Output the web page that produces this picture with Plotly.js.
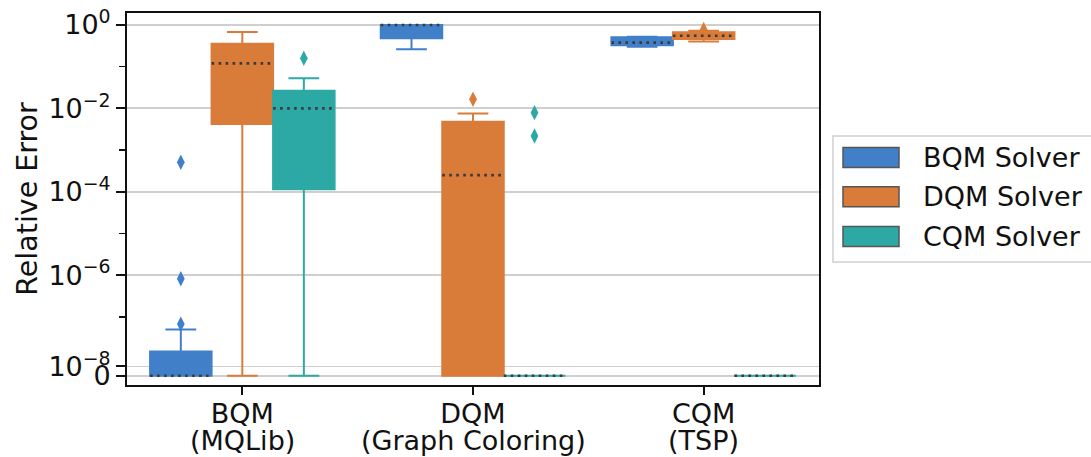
<!DOCTYPE html>
<html>
<head>
<meta charset="utf-8">
<script src="https://cdn.plot.ly/plotly-3.0.1.min.js"></script>
<style>html,body{margin:0;padding:0;background:#fff;}#chart{width:1091px;height:457px;}</style>
</head>
<body>
<div id="chart"></div>
<script>
// ---------- data (raw relative-error values) ----------
const categories = ["BQM", "DQM", "CQM"];
const categoryNotes = ["(MQLib)", "(Graph Coloring)", "(TSP)"];
const solvers = ["BQM Solver", "DQM Solver", "CQM Solver"];
const colors = ["#4180c9", "#d97c3a", "#2ca9a5"];

// per solver, one value per category
const bqmQ1     = [0,      0.48,  0.326];
const bqmMedian = [0,      1.0,   0.377];
const bqmQ3     = [2.6e-8, 1.0,   0.507];
const bqmLow    = [0,      0.261, 0.30];
const bqmHigh   = [5.0e-8, 1.0,   0.524];

const dqmQ1     = [4.2e-3, 0,      0.462];
const dqmMedian = [0.12,   2.5e-4, 0.553];
const dqmQ3     = [0.356,  4.8e-3, 0.668];
const dqmLow    = [0,      0,      0.40];
const dqmHigh   = [0.68,   7.5e-3, 0.73];

const cqmQ1     = [1.15e-4, 0, 0];
const cqmMedian = [0.01,    0, 0];
const cqmQ3     = [0.0266,  0, 0];
const cqmLow    = [0,       0, 0];
const cqmHigh   = [0.0526,  0, 0];

// outliers: category index and value
const bqmOutCat = [0, 0, 0];
const bqmOutVal = [6.7e-8, 8.2e-7, 5.1e-4];
const dqmOutCat = [1, 2];
const dqmOutVal = [0.0165, 0.78];
const cqmOutCat = [0, 1, 1];
const cqmOutVal = [0.159, 7.9e-3, 2.18e-3];

const yTickValues = [1, 1e-2, 1e-4, 1e-6, 1e-8, 0];
const yTickLabels = ["10<sup>0</sup>", "10<sup>−2</sup>", "10<sup>−4</sup>", "10<sup>−6</sup>", "10<sup>−8</sup>", "0"];
const yMinorValues = [1e-1, 1e-3, 1e-5, 1e-7];

// ---------- symmetric-log transform (linthresh 5e-8, linscale 1) ----------
const LIN = 5e-8, ADJ = 1 / (1 - 1 / 10);
function T(v) { return v <= LIN ? ADJ * v / LIN : ADJ + Math.log10(v / LIN); }

const groups = [
  {q1: bqmQ1, med: bqmMedian, q3: bqmQ3, lo: bqmLow, hi: bqmHigh, oc: bqmOutCat, ov: bqmOutVal},
  {q1: dqmQ1, med: dqmMedian, q3: dqmQ3, lo: dqmLow, hi: dqmHigh, oc: dqmOutCat, ov: dqmOutVal},
  {q1: cqmQ1, med: cqmMedian, q3: cqmQ3, lo: cqmLow, hi: cqmHigh, oc: cqmOutCat, ov: cqmOutVal}
];

const BW = 0.8 / 3;
const offsets = [-BW, 0, BW];
const traces = [];
groups.forEach((g, s) => {
  const xs = categories.map((c, i) => i + offsets[s]);
  traces.push({
    type: "box", x: xs,
    q1: g.q1.map(T), median: g.med.map(T), q3: g.q3.map(T),
    lowerfence: g.lo.map(T), upperfence: g.hi.map(T),
    width: BW, whiskerwidth: 0.5, boxpoints: false,
    fillcolor: colors[s], line: {color: colors[s], width: 2},
    showlegend: false, hoverinfo: "skip", name: solvers[s]
  });
});
// outliers
groups.forEach((g, s) => {
  traces.push({
    type: "scatter", mode: "markers",
    x: g.oc.map(i => i + offsets[s]), y: g.ov.map(T),
    marker: {symbol: "diamond-tall", size: 11, color: colors[s], line: {width: 0}},
    showlegend: false, hoverinfo: "skip"
  });
});
// dotted medians
groups.forEach((g, s) => {
  const xs = [], ys = [];
  g.med.forEach((m, i) => {
    const c = i + offsets[s];
    xs.push(c - BW / 2, c + BW / 2, null);
    ys.push(T(m), T(m), null);
  });
  traces.push({
    type: "scatter", mode: "lines", x: xs, y: ys,
    line: {color: "#3a3a3a", width: 2.6, dash: "2.6px,4.4px"},
    showlegend: false, hoverinfo: "skip"
  });
});

// ---------- manual legend + second line of category labels ----------
const PL = 127, PW = 692, PB = 385, PH = 372;
const px = v => (v - PL) / PW;
const py = v => (PB - v) / PH;
const shapes = [{
  type: "rect", xref: "paper", yref: "paper",
  x0: px(833), x1: px(1100), y0: py(262), y1: py(136),
  line: {color: "#d0d0d0", width: 1.5}, fillcolor: "rgba(255,255,255,0.8)", layer: "above"
}];
const annotations = [];
const rowY = [157.5, 196.8, 236.4];
solvers.forEach((name, s) => {
  shapes.push({
    type: "rect", xref: "paper", yref: "paper",
    x0: px(843), x1: px(899), y0: py(rowY[s] + 10), y1: py(rowY[s] - 10),
    line: {color: "#555555", width: 1.5}, fillcolor: colors[s], layer: "above"
  });
  annotations.push({
    xref: "paper", yref: "paper", x: px(921), y: py(rowY[s]),
    xanchor: "left", yanchor: "middle", showarrow: false, text: name,
    font: {family: "DejaVu Sans", size: 27, color: "#111"}
  });
});
categoryNotes.forEach((note, i) => {
  annotations.push({
    xref: "x", yref: "paper", x: i, y: py(440),
    xanchor: "center", yanchor: "middle", showarrow: false, text: note,
    font: {family: "DejaVu Sans", size: 27, color: "#111"}
  });
});

const layout = {
  width: 1091, height: 457,
  margin: {l: PL, r: 1091 - PL - PW, t: 13, b: 457 - PB},
  paper_bgcolor: "#fff", plot_bgcolor: "#fff",
  font: {family: "DejaVu Sans", size: 27, color: "#111"},
  boxmode: "overlay",
  xaxis: {
    range: [-0.5, 2.5], tickmode: "array", tickvals: [0, 1, 2], ticktext: categories,
    ticks: "outside", ticklen: 8, tickwidth: 2, tickcolor: "#111", ticklabelstandoff: -4,
    showline: true, linecolor: "#111", linewidth: 2, mirror: true,
    showgrid: false, zeroline: false, fixedrange: true
  },
  yaxis: {
    range: [-0.223, 8.70], tickmode: "array",
    tickvals: yTickValues.map(T), ticktext: yTickLabels,
    ticks: "outside", ticklen: 9, tickwidth: 2, tickcolor: "#111",
    minor: {tickmode: "array", tickvals: yMinorValues.map(T), ticks: "outside", ticklen: 6, tickwidth: 1.6, tickcolor: "#111", showgrid: false},
    showline: true, linecolor: "#111", linewidth: 2, mirror: true,
    showgrid: true, gridcolor: "#cfcfcf", gridwidth: 1.8, zeroline: false,
    title: {text: "Relative Error", standoff: 2, font: {family: "DejaVu Sans", size: 28.5}},
    fixedrange: true
  },
  shapes: shapes, annotations: annotations, showlegend: false
};

Plotly.newPlot("chart", traces, layout, {displayModeBar: false, staticPlot: true});
</script>
</body>
</html>
